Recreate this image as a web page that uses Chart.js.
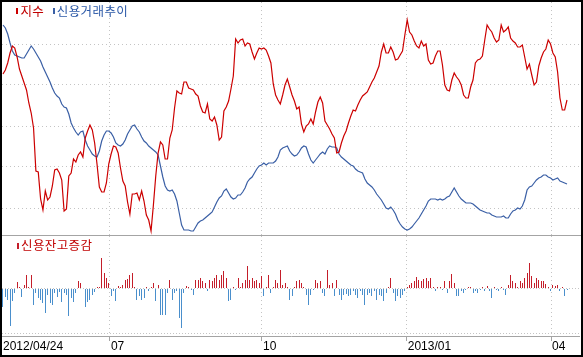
<!DOCTYPE html>
<html lang="ko"><head><meta charset="utf-8">
<script src="https://cdn.jsdelivr.net/npm/chart.js@4.4.1/dist/chart.umd.min.js"></script>
<style>
html,body{margin:0;padding:0;background:#000;}
#frame{position:relative;width:583px;height:357px;background:#000;overflow:hidden;}
#panel{position:absolute;left:2px;top:2px;width:579px;height:353px;background:#fff;overflow:hidden;}
#cTop,#cBot{position:absolute;left:0;}
#cTop{top:0;}
#cBot{top:234px;}
#divider{position:absolute;left:0;top:233px;width:579px;height:1px;background:#a4a4a4;}
.mk{position:absolute;width:2px;height:6px;}
.lg{position:absolute;font-family:"Noto Sans CJK KR","Noto Sans CJK SC",sans-serif;font-size:12.5px;line-height:14px;white-space:nowrap;letter-spacing:0.4px;}
</style></head><body>
<div id="frame"><div id="panel">
<canvas id="cTop" width="578" height="234"></canvas>
<canvas id="cBot" width="578" height="119"></canvas>
<div id="divider"></div>
<div id="legend"></div>
</div></div>
<script>
// ---- data (trading days from 2012/04/24 to mid-April 2013) ----
const seriesNames = ['지수', '신용거래추이'];
const barName = '신용잔고증감';
const tickLabels = ['2012/04/24', '07', '10', '2013/01', '04'];
const tickPos = [45.5, 110.2, 171.8, 233.2];   // trading-day index of month starts

const red = [
 1961,1965,1972,1982,1989,1987,1978,1966,1959,1952,
 1945,1932,1922,1907,1864,1863,1836,1825,1844,1835,
 1838,1849,1865,1866,1862,1855,1824,1826,1859,1862,
 1876,1873,1880,1883,1878,1897,1904,1910,1905,1892,
 1871,1848,1843,1843,1852,1871,1881,1889,1888,1882,
 1867,1854,1849,1833,1821,1841,1841,1842,1835,1844,
 1834,1820,1815,1804,1830,1859,1882,1893,1890,1876,
 1876,1897,1905,1927,1944,1942,1941,1953,1953,1947,
 1946,1945,1941,1939,1929,1923,1922,1931,1916,1914,
 1918,1910,1895,1898,1924,1928,1934,1946,1959,1996,
 1992,1995,1996,1989,1992,1991,1983,1976,1982,1987,
 1986,1987,1985,1979,1972,1951,1940,1935,1931,1940,
 1950,1956,1948,1940,1934,1926,1928,1911,1903,1909,
 1911,1916,1911,1923,1933,1938,1932,1914,1910,1906,
 1901,1897,1882,1883,1892,1899,1904,1912,1919,1925,
 1924,1930,1935,1939,1941,1943,1948,1953,1957,1963,
 1969,1983,1991,1982,1982,1988,1983,1975,1976,1980,
 1984,2000,2015,2003,2000,1994,1989,1987,1994,1989,
 1991,1975,1971,1972,1979,1984,1984,1970,1950,1945,
 1944,1955,1962,1958,1955,1950,1940,1937,1937,1948,
 1955,1972,1975,1976,1979,1995,2010,2006,2003,1997,
 1993,1995,2010,2003,2005,2008,1997,1994,1992,1988,
 1988,1990,1978,1966,1971,1960,1950,1953,1969,1977,
 1983,1986,1995,1991,1982,1978,1963,1937,1925,1925,
 1935
];

const blue = [
 475,472,466,457,449,445,444,443,442,442,
 446,450,454,451,447,443,439,433,428,423,
 418,412,407,404,402,396,393,392,386,377,
 372,368,365,368,369,360,354,350,346,344,
 343,349,359,365,369,369,367,363,357,355,
 354,356,360,366,370,374,375,371,368,363,
 359,357,354,352,350,348,345,334,323,314,
 310,309,310,306,299,287,275,270,270,270,
 269,269,273,277,279,280,282,284,286,288,
 293,298,302,304,309,311,307,303,301,302,
 305,305,308,312,318,321,323,327,331,334,
 335,337,335,337,337,337,339,343,350,352,
 353,354,349,346,344,345,348,352,354,353,
 346,340,337,340,343,346,348,346,351,354,
 353,353,352,346,343,341,339,337,335,334,
 331,329,328,327,321,317,315,313,310,306,
 303,300,296,292,291,293,290,286,280,276,
 273,271,270,271,273,276,279,282,286,290,
 294,299,301,301,301,300,301,300,301,303,
 304,308,312,308,304,301,299,297,297,297,
 296,294,292,290,289,288,287,287,285,284,
 283,283,283,284,282,282,286,289,290,292,
 291,294,300,310,313,314,317,320,322,323,
 325,325,323,322,320,321,322,319,318,317,
 316
];

const bars = [
 -187,-87,-120,-380,-130,-53,63,15,-87,30,
 130,10,130,-170,-53,-103,-120,-150,-253,-70,
 -153,-170,-53,-87,-37,-137,-53,-70,-283,-103,
 -137,-53,73,47,-10,-187,-137,-120,-70,-37,
 5,15,300,150,100,47,-83,-33,-133,17,
 5,33,83,90,133,150,5,-117,-83,-117,
 -100,10,-33,5,50,-133,33,-267,-267,-267,
 -50,83,-117,-50,-33,-300,-400,-50,17,5,
 -17,-67,83,83,100,67,50,-33,83,67,
 100,133,83,133,167,100,-133,-117,5,-17,
 100,5,50,83,217,83,100,67,83,50,
 117,-83,5,133,-50,5,83,50,183,33,
 50,5,-117,-83,5,67,83,50,5,-67,
 -167,-67,-17,83,50,67,-50,-83,177,33,
 50,-83,77,-67,-117,-67,-57,-83,-67,-33,
 -67,-100,-33,-67,-167,-67,-50,-83,-33,-117,
 -67,-83,-133,-50,5,100,-50,-133,-83,-100,
 -67,-33,5,33,50,67,110,83,67,90,
 100,67,100,5,-33,5,5,-17,67,-50,
 67,140,50,-83,-83,-33,-50,-17,5,10,
 -50,-33,-50,-17,5,-33,17,-33,-100,10,
 -17,-33,5,-17,-67,33,133,67,50,5,
 67,50,100,150,250,117,50,100,83,67,
 67,43,5,-33,33,23,33,-33,5,-83,
 -23
];

const redGridVals = [1991, 1950, 1909, 1868, 1827];
const barGridVals = [0, -450];

// ---- styles ----
const RED = '#cc0000', BLUE = '#3a5fa5', BLUE_TXT = '#2d5aa8';
const UP = '#c41e2a', DN = '#4a8fcc', GRID = '#c4c4c4', AXIS = '#a4a4a4';
const xMin = -0.4255, xMax = 245.53;

// ---- legends (real text) ----
const lgBox = document.getElementById('legend');
function addLegend(name, mkColor, txtColor, mx, my, tx, ty) {
  const m = document.createElement('div');
  m.className = 'mk'; m.style.left = mx + 'px'; m.style.top = my + 'px'; m.style.background = mkColor;
  lgBox.appendChild(m);
  const t = document.createElement('div');
  t.className = 'lg'; t.style.left = tx + 'px'; t.style.top = ty + 'px'; t.style.color = txtColor;
  t.textContent = name;
  lgBox.appendChild(t);
}
addLegend(seriesNames[0], RED, '#c00000', 14, 6, 18.4, 2);
addLegend(seriesNames[1], BLUE, BLUE_TXT, 51, 6, 54.8, 2);
addLegend(barName, UP, '#c00000', 15, 241, 19, 236);

Chart.defaults.font.family = '"Liberation Sans","Arial",sans-serif';

const common = {
  responsive: false, animation: false, devicePixelRatio: 1, events: [],
  layout: { padding: 0 },
  plugins: { legend: { display: false }, tooltip: { enabled: false } }
};

new Chart(document.getElementById('cTop'), {
  type: 'line',
  data: { datasets: [
    { label: seriesNames[0], data: red.map((v, i) => ({ x: i, y: v })), yAxisID: 'y',
      borderColor: RED, borderWidth: 1.2, pointRadius: 0, tension: 0, fill: false },
    { label: seriesNames[1], data: blue.map((v, i) => ({ x: i, y: v })), yAxisID: 'y2',
      borderColor: BLUE, borderWidth: 1.2, pointRadius: 0, tension: 0, fill: false }
  ]},
  options: { ...common,
    scales: {
      x: { type: 'linear', min: xMin, max: xMax,
           afterBuildTicks: s => { s.ticks = tickPos.map(v => ({ value: v })); },
           ticks: { display: false }, grid: { color: GRID, drawTicks: false },
           border: { display: false, dash: [1, 3] } },
      y: { type: 'linear', min: 1799, max: 2033,
           afterBuildTicks: s => { s.ticks = redGridVals.map(v => ({ value: v })); },
           ticks: { display: false }, grid: { color: GRID, drawTicks: false },
           border: { display: false, dash: [1, 3] } },
      y2: { type: 'linear', display: false, min: 264, max: 498 }
    }
  }
});

const snap = { id: 'snap', afterDatasetsUpdate(chart) {
  chart.getDatasetMeta(0).data.forEach(el => { el.x = Math.floor(el.x) + 0.5; el.base = Math.round(el.base); el.y = Math.round(el.y); });
}};

new Chart(document.getElementById('cBot'), {
  type: 'bar',
  data: { datasets: [{ label: barName, data: bars.map((v, i) => ({ x: i, y: v })),
    backgroundColor: bars.map(v => v >= 0 ? UP : DN), barThickness: 1, minBarLength: 1,
    borderWidth: 0, inflateAmount: 0, grouped: false }]},
  options: { ...common,
    scales: {
      x: { type: 'linear', min: xMin, max: xMax, offset: false,
           afterBuildTicks: s => { s.ticks = [xMin, ...tickPos].map(v => ({ value: v })); },
           afterFit: s => { s.height = 19; },
           ticks: { autoSkip: false, maxRotation: 0, minRotation: 0, align: 'start', padding: -2,
                    labelOffset: 1, color: '#000', font: { size: 12, lineHeight: 1.2 },
                    callback: (v, i) => tickLabels[i] },
           grid: { offset: false, color: c => c.index === 0 ? 'rgba(0,0,0,0)' : GRID,
                   tickColor: c => c.index === 0 ? 'rgba(0,0,0,0)' : AXIS, tickLength: 5, drawTicks: true },
           border: { display: true, color: AXIS, width: 1, dash: [1, 3] } },
      y: { type: 'linear', min: -480, max: 520,
           afterBuildTicks: s => { s.ticks = barGridVals.map(v => ({ value: v })); },
           ticks: { display: false }, grid: { color: GRID, drawTicks: false },
           border: { display: false, dash: [1, 2] } }
    }
  },
  plugins: [snap]
});
</script>
</body></html>
